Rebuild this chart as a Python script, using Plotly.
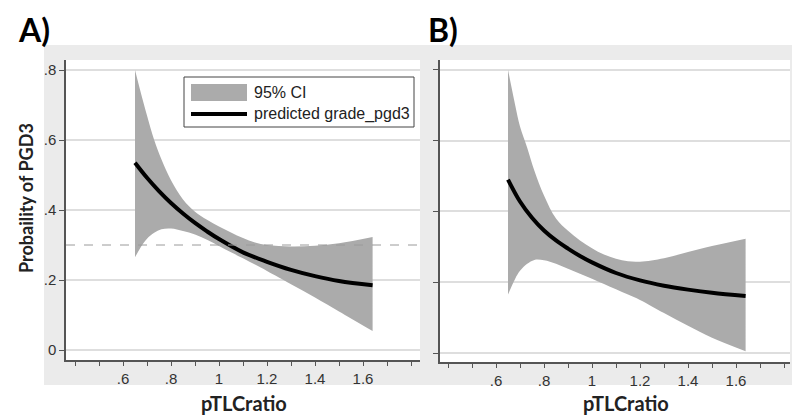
import plotly.graph_objects as go

# ---------------- data ----------------
X_PRED = [0.65, 0.70, 0.75, 0.80, 0.85, 0.90, 0.95, 1.00, 1.10, 1.20, 1.30, 1.40, 1.50, 1.64]
PRED_A = [0.535, 0.492, 0.454, 0.420, 0.390, 0.363, 0.339, 0.317, 0.279, 0.252,
          0.229, 0.211, 0.197, 0.185]
PRED_B = [0.490, 0.428, 0.382, 0.346, 0.318, 0.295, 0.274, 0.256, 0.226, 0.205,
          0.190, 0.179, 0.170, 0.161]

X_CI = [0.65, 0.68, 0.70, 0.73, 0.76, 0.80, 0.85, 0.90, 0.95, 1.00,
        1.05, 1.10, 1.15, 1.20, 1.30, 1.40, 1.50, 1.64]
UPPER_A = [0.800, 0.720, 0.670, 0.600, 0.545, 0.485, 0.430, 0.395, 0.372, 0.353,
           0.336, 0.320, 0.307, 0.300, 0.296, 0.298, 0.305, 0.323]
LOWER_A = [0.265, 0.300, 0.318, 0.335, 0.345, 0.347, 0.340, 0.330, 0.315, 0.297,
           0.279, 0.262, 0.244, 0.226, 0.188, 0.150, 0.110, 0.054]
UPPER_B = [0.800, 0.700, 0.640, 0.580, 0.515, 0.445, 0.380, 0.345, 0.318, 0.296,
           0.278, 0.266, 0.259, 0.258, 0.268, 0.285, 0.302, 0.323]
LOWER_B = [0.165, 0.210, 0.232, 0.252, 0.263, 0.262, 0.252, 0.238, 0.224, 0.210,
           0.195, 0.180, 0.165, 0.150, 0.113, 0.077, 0.043, 0.005]

REF_LINE_A = 0.3

Y_TICKS = [0, 0.2, 0.4, 0.6, 0.8]
Y_TICK_LABELS = ["0", ".2", ".4", ".6", ".8"]
X_TICKS = [0.4, 0.5, 0.6, 0.7, 0.8, 0.9, 1.0, 1.1, 1.2, 1.3, 1.4, 1.5, 1.6, 1.7, 1.8]
X_TICK_LABELS = ["", "", ".6", "", ".8", "", "1", "", "1.2", "", "1.4", "", "1.6", "", ""]

LEGEND_CI = "95% CI"
LEGEND_PRED = "predicted grade_pgd3"
X_TITLE = "pTLCratio"
Y_TITLE = "Probaility of PGD3"

# ---------------- layout helpers ----------------
W, H = 800, 415
def px(x):
    return x / W
def py(y):
    return 1 - y / H

CI_COLOR = "#ababab"
BG_GRAY = "#ebebeb"
GRID = "#dedede"
AXIS = "#555555"
TICKFONT = dict(family="Liberation Sans, Arial, sans-serif", size=15, color="#333333")
TITLEFONT = "Lato, Open Sans, sans-serif"

fig = go.Figure()

def add_panel(xci, upper, lower, xp, pred, xa, ya):
    fig.add_trace(go.Scatter(
        x=xci, y=lower, mode="lines", line=dict(width=0, shape="spline", color=CI_COLOR),
        hoverinfo="skip", showlegend=False, xaxis=xa, yaxis=ya))
    fig.add_trace(go.Scatter(
        x=xci, y=upper, mode="lines", fill="tonexty", fillcolor=CI_COLOR,
        line=dict(width=0, shape="spline", color=CI_COLOR),
        hoverinfo="skip", name=LEGEND_CI, showlegend=False, xaxis=xa, yaxis=ya))
    fig.add_trace(go.Scatter(
        x=xp, y=pred, mode="lines", line=dict(color="black", width=4, shape="spline"),
        name=LEGEND_PRED, showlegend=False, xaxis=xa, yaxis=ya))

add_panel(X_CI, UPPER_A, LOWER_A, X_PRED, PRED_A, "x", "y")
add_panel(X_CI, UPPER_B, LOWER_B, X_PRED, PRED_B, "x2", "y2")

# panel geometry (pixels)
A_L, A_R, A_T, A_B = 58, 412, 52, 352
B_L, B_R, B_T, B_B = 432, 782, 52, 354

xaxis_common = dict(
    tickmode="array", tickvals=X_TICKS, ticktext=X_TICK_LABELS,
    ticks="outside", ticklen=4, tickwidth=1, tickcolor=AXIS,
    showline=True, linecolor=AXIS, linewidth=1.5, showgrid=False,
    zeroline=False, tickfont=TICKFONT, fixedrange=True)
yaxis_common = dict(
    tickmode="array", tickvals=Y_TICKS,
    ticks="outside", ticklen=5, tickwidth=1, tickcolor=AXIS,
    showline=True, linecolor=AXIS, linewidth=1.5, showgrid=True,
    gridcolor=GRID, gridwidth=2, zeroline=False, tickfont=TICKFONT, fixedrange=True)

fig.update_layout(
    width=W, height=H, autosize=False,
    margin=dict(l=0, r=0, t=0, b=0),
    paper_bgcolor="white", plot_bgcolor="white",
    showlegend=False,
    xaxis=dict(domain=[px(A_L), px(A_R)], range=[0.6 - 57 / 240, 0.6 + 297 / 240],
               anchor="y", **xaxis_common),
    yaxis=dict(domain=[py(A_B), py(A_T)], range=[-10 / 350, 290 / 350],
               anchor="x", ticktext=Y_TICK_LABELS, **yaxis_common),
    xaxis2=dict(domain=[px(B_L), px(B_R)], range=[0.6 - 56 / 240, 0.6 + 294 / 240],
                anchor="y2", **xaxis_common),
    yaxis2=dict(domain=[py(B_B), py(B_T)], range=[-9 / 354, 293 / 354],
                anchor="x2", ticktext=[""] * len(Y_TICKS), **yaxis_common),
)

shapes = [
    # grey graph regions
    dict(type="rect", xref="paper", yref="paper", x0=px(36), x1=px(788),
         y0=py(377), y1=py(37), fillcolor=BG_GRAY, line=dict(width=0), layer="below"),
    # white plot regions
    dict(type="rect", xref="paper", yref="paper", x0=px(A_L), x1=px(A_R),
         y0=py(A_B), y1=py(A_T), fillcolor="white", line=dict(width=0), layer="below"),
    dict(type="rect", xref="paper", yref="paper", x0=px(B_L), x1=px(B_R),
         y0=py(B_B), y1=py(B_T), fillcolor="white", line=dict(width=0), layer="below"),
    # dashed reference line in panel A
    dict(type="line", xref="x domain", yref="y", x0=0, x1=1, y0=REF_LINE_A, y1=REF_LINE_A,
         line=dict(color="#9a9a9a", width=1, dash="dash"), layer="above"),
    # legend box
    dict(type="rect", xref="paper", yref="paper", x0=px(176), x1=px(406),
         y0=py(119), y1=py(69), fillcolor="white", line=dict(color="#444444", width=1)),
    dict(type="rect", xref="paper", yref="paper", x0=px(183), x1=px(239),
         y0=py(93), y1=py(76), fillcolor=CI_COLOR, line=dict(width=0)),
    dict(type="line", xref="paper", yref="paper", x0=px(183), x1=px(239),
         y0=py(106), y1=py(106), line=dict(color="black", width=4)),
]
fig.update_layout(shapes=shapes)

LEGFONT = dict(family="Liberation Sans, Arial, sans-serif", size=16, color="#222")
ann = [
    dict(text=LEGEND_CI, x=px(244), y=py(84.5), xanchor="left", yanchor="middle", font=LEGFONT),
    dict(text=LEGEND_PRED, x=px(244), y=py(106), xanchor="left", yanchor="middle", font=LEGFONT),
    dict(text="<b>A)</b>", x=px(8), y=py(22), xanchor="left", yanchor="middle",
         font=dict(family=TITLEFONT, size=32, color="black")),
    dict(text="<b>B)</b>", x=px(418), y=py(22), xanchor="left", yanchor="middle",
         font=dict(family=TITLEFONT, size=32, color="black")),
    dict(text="<b>" + X_TITLE + "</b>", x=px(236), y=py(395), xanchor="center", yanchor="middle",
         font=dict(family=TITLEFONT, size=20, color="#222")),
    dict(text="<b>" + X_TITLE + "</b>", x=px(618), y=py(395), xanchor="center", yanchor="middle",
         font=dict(family=TITLEFONT, size=20, color="#222")),
    dict(text="<b>" + Y_TITLE + "</b>", x=px(18), y=py(190), xanchor="center", yanchor="middle",
         textangle=-90, font=dict(family=TITLEFONT, size=18, color="#222")),
]
for a in ann:
    a.update(xref="paper", yref="paper", showarrow=False)
fig.update_layout(annotations=ann)

fig.write_html("out.html")
